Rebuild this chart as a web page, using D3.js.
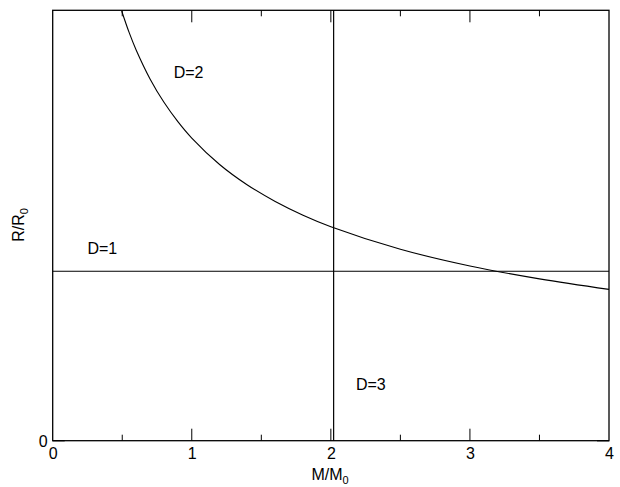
<!DOCTYPE html>
<html><head><meta charset="utf-8">
<script src="https://cdn.jsdelivr.net/npm/d3@7/dist/d3.min.js"></script>
<style>body{margin:0;background:#fff}svg{display:block}text{font-family:"Liberation Sans",Arial,sans-serif;fill:#000}</style>
</head><body><svg id="c" width="620" height="487"></svg>
<script>
// Data
const curveM = [0.496, 0.55, 0.6, 0.7, 0.8, 0.9, 1.0, 1.2, 1.4, 1.6, 1.8, 2.0, 2.5, 3.0, 3.5, 4.0];
const curveR = [2.536, 2.408, 2.306, 2.135, 1.997, 1.883, 1.786, 1.630, 1.509, 1.412, 1.331, 1.263, 1.130, 1.031, 0.955, 0.893];
const hLineR = 1.0;          // D=1 boundary
const vLineM = 2.02;         // D=3 boundary
const xMajor = [0, 1, 2, 3, 4];
const xMinor = [0.5, 1.5, 2.5, 3.5];
const regionLabels = ["D=2", "D=1", "D=3"];
const regionPos = [[0.87, 2.14], [0.25, 1.1], [2.18, 0.3]]; // [M, R] anchors of labels

const svg = d3.select("#c");
const L = 52.7, R = 609, T = 10.3, B = 440.7;
const x = d3.scaleLinear().domain([0, 4]).range([L, R]);
const y = d3.scaleLinear().domain([0, 2.54]).range([B, T]);

const g = svg.append("g");
// frame
g.append("rect").attr("x", L).attr("y", T).attr("width", R - L).attr("height", B - T)
  .attr("fill", "none").attr("stroke", "#000").attr("stroke-width", 1.3);

// bottom axis labels
const bottom = d3.axisBottom(x).tickValues(xMajor).tickSize(0).tickPadding(0).tickFormat(d3.format("d"));
const ax = g.append("g").attr("transform", `translate(0,${B})`).call(bottom);
ax.select(".domain").remove();
ax.selectAll("text").attr("font-size", 16).attr("dy", "1.15em")
  .style("font-family", '"Liberation Sans",Arial,sans-serif');
// major/minor ticks bottom & top (inward)
xMajor.filter(d => d > 0 && d < 4).forEach(d => {
  g.append("line").attr("x1", x(d)).attr("x2", x(d)).attr("y1", B).attr("y2", B - 12).attr("stroke", "#000");
  g.append("line").attr("x1", x(d)).attr("x2", x(d)).attr("y1", T).attr("y2", T + 12).attr("stroke", "#000");
});
xMinor.forEach(d => {
  g.append("line").attr("x1", x(d)).attr("x2", x(d)).attr("y1", B).attr("y2", B - 6).attr("stroke", "#000");
  g.append("line").attr("x1", x(d)).attr("x2", x(d)).attr("y1", T).attr("y2", T + 6).attr("stroke", "#000");
});
// y ticks at 0
g.append("line").attr("x1", L).attr("x2", L + 12).attr("y1", y(0)).attr("y2", y(0)).attr("stroke", "#000").attr("stroke-width", 1.3);
g.append("line").attr("x1", R - 12).attr("x2", R).attr("y1", y(0)).attr("y2", y(0)).attr("stroke", "#000").attr("stroke-width", 1.3);
g.append("text").attr("x", L - 5).attr("y", y(0) + 6).attr("text-anchor", "end").attr("font-size", 16).text("0");

// boundary lines
g.append("line").attr("x1", x(0)).attr("x2", x(4)).attr("y1", y(hLineR)).attr("y2", y(hLineR)).attr("stroke", "#000").attr("stroke-width", 1);
g.append("line").attr("x1", x(vLineM)).attr("x2", x(vLineM)).attr("y1", y(0)).attr("y2", y(2.54)).attr("stroke", "#000").attr("stroke-width", 1.2);

// curve
const pts = curveM.map((m, i) => [m, curveR[i]]);
g.append("path").datum(pts).attr("fill", "none").attr("stroke", "#000").attr("stroke-width", 1.1)
  .attr("d", d3.line().x(d => x(d[0])).y(d => y(d[1])).curve(d3.curveCatmullRom));

// region labels
regionLabels.forEach((t, i) => {
  g.append("text").attr("x", x(regionPos[i][0])).attr("y", y(regionPos[i][1])).attr("font-size", 16).text(t);
});

// axis titles
const xt = g.append("text").attr("x", 330).attr("y", 480).attr("text-anchor", "middle").attr("font-size", 16);
xt.append("tspan").text("M/M");
xt.append("tspan").attr("font-size", 11).attr("dy", 4).text("0");
const yt = g.append("text").attr("transform", "translate(24,225) rotate(-90)").attr("text-anchor", "middle").attr("font-size", 16);
yt.append("tspan").text("R/R");
yt.append("tspan").attr("font-size", 11).attr("dy", 4).text("0");
</script></body></html>
